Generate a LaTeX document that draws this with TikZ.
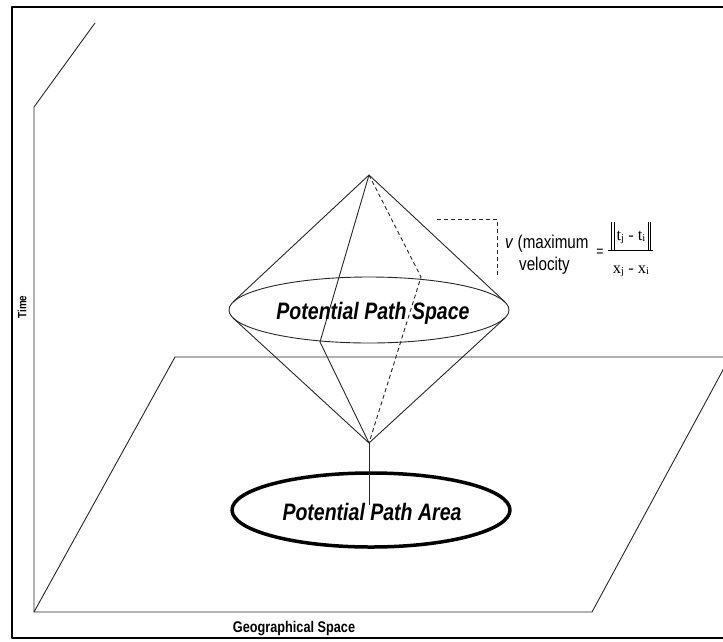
\documentclass[tikz,border=0pt]{standalone}
\usepackage{fontspec}
\setmainfont{Liberation Sans}
\newfontfamily\nsans[FakeStretch=0.82]{Liberation Sans}
\newfontfamily\tnr{Liberation Serif}
\newcommand{\mysub}[1]{\raisebox{-1.5pt}{\fontsize{10.5}{11}\selectfont #1}}
\begin{document}
\begin{tikzpicture}[x=1pt,y=-1pt,line join=round,
  thin line/.style={draw=black!85,line width=0.9pt},
  bigtext/.style={inner sep=0,font=\nsans\bfseries\itshape\fontsize{23.8}{24}\selectfont},
  axlabel/.style={inner sep=0,font=\nsans\bfseries\fontsize{15.5}{16}\selectfont},
  formula/.style={inner sep=0,font=\tnr\fontsize{16.5}{17}\selectfont}]
\useasboundingbox (0,0) rectangle (723,641);
\clip (0,0) rectangle (723,641);
% frame
\draw[line width=2pt] (12,7) rectangle (760,638);
% time axis
\coordinate (o) at (34,612);
\coordinate (tk) at (34,107);
\coordinate (tt) at (95,23);
\draw[thin line] (o) -- (tk) -- (tt);
% geographical plane
\coordinate (p2) at (592,612);
\coordinate (p3) at (730,357);
\coordinate (p4) at (175,357);
\draw[thin line] (o) -- (p2) -- (p3) -- (p4) -- cycle;
% cone
\coordinate (apex) at (369,175);
\coordinate (base) at (369,443);
\coordinate (ul) at (233,302);
\coordinate (ur) at (505,302);
\coordinate (ll) at (233,318);
\coordinate (lr) at (505,318);
\coordinate (mfront) at (320,342);
\coordinate (mback) at (421,277);
\draw[thin line] (369,310) ellipse [x radius=140, y radius=33];
\draw[thin line] (ul) -- (apex) -- (ur);
\draw[thin line] (ll) -- (base) -- (lr);
\draw[thin line] (apex) -- (mfront) -- (base);
\draw[thin line,dash pattern=on 4pt off 3pt] (apex) -- (mback) -- (base);
% lower ellipse
\draw[line width=3.5pt] (371,510) ellipse [x radius=139, y radius=37];
\coordinate (stem) at (369,505);
\draw[thin line] (base) -- (stem);
% labels
\node[bigtext] (pps) at (373,313) {Potential Path Space};
\node[bigtext] (ppa) at (372,512) {Potential Path Area};
\node[axlabel,rotate=90,font=\nsans\bfseries\fontsize{12}{12}\selectfont] (time) at (22,307) {Time};
\node[axlabel] (geo) at (294,629) {Geographical Space};
% bracket
\coordinate (b1) at (437,219);
\coordinate (b2) at (497,219);
\coordinate (b3) at (497,278);
\draw[thin line,dash pattern=on 4pt off 3pt] (b1) -- (b2) -- (b3);
% velocity text
\node[anchor=base west,inner sep=0,font=\nsans\fontsize{18.5}{19}\selectfont] (vmax) at (505,248) {\textit{v} (maximum};
\node[anchor=base west,inner sep=0,font=\nsans\fontsize{18.5}{19}\selectfont] (vel) at (519,270) {velocity};
\node[inner sep=0,font=\nsans\fontsize{15}{15}\selectfont] (eq) at (600,253) {=};
\draw[line width=0.8pt] (608,250) -- (653,250);
\draw[line width=0.7pt] (611.5,222) -- (611.5,250) (614,222) -- (614,250);
\draw[line width=0.7pt] (648,222) -- (648,250) (650.5,222) -- (650.5,250);
\node[formula,anchor=base] (num) at (631,240) {t\mysub{j} - t\mysub{i}};
\node[formula,anchor=base] (den) at (631,273) {x\mysub{j} - x\mysub{i}};
\end{tikzpicture}
\end{document}
